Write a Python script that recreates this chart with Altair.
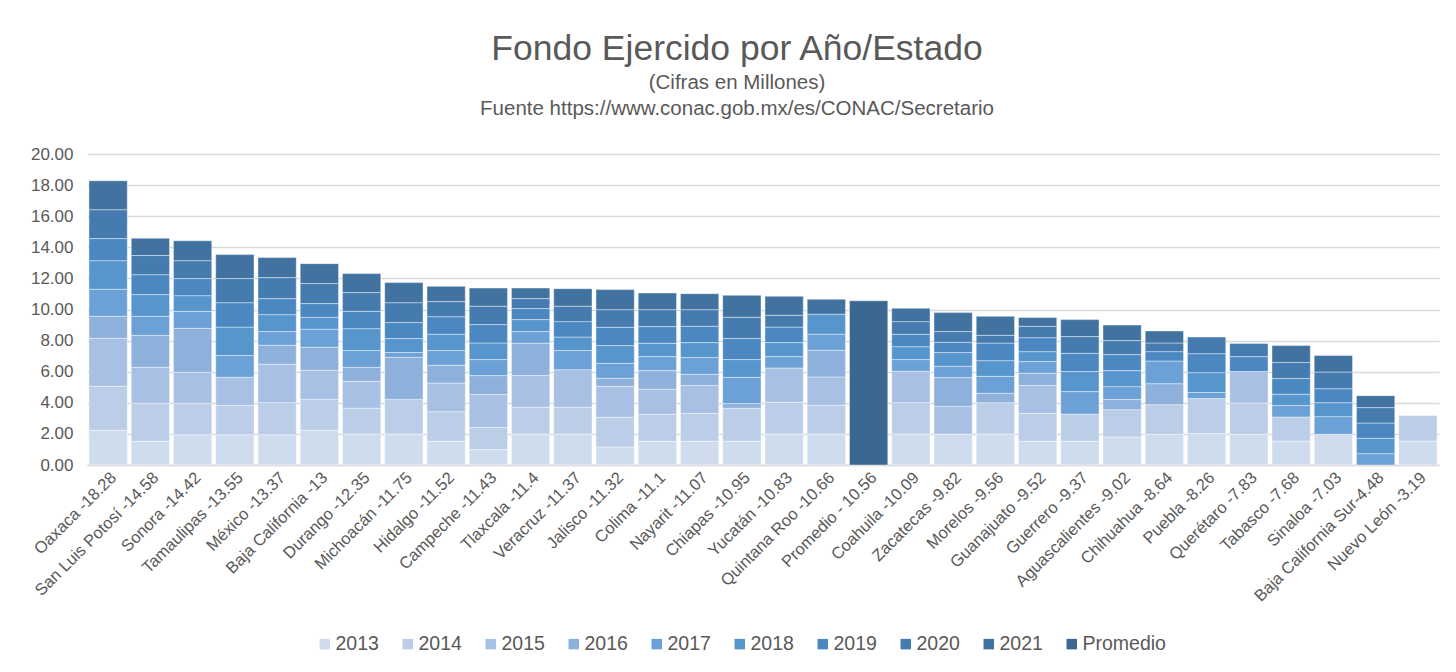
import altair as alt
import pandas as pd

states = ["Oaxaca -18.28", "San Luis Potosí -14.58", "Sonora -14.42", "Tamaulipas -13.55",
          "México -13.37", "Baja California -13", "Durango -12.35", "Michoacán -11.75",
          "Hidalgo -11.52", "Campeche -11.43", "Tlaxcala -11.4", "Veracruz -11.37",
          "Jalisco -11.32", "Colima -11.1", "Nayarit -11.07", "Chiapas -10.95",
          "Yucatán -10.83", "Quintana Roo -10.66", "Promedio - 10.56", "Coahuila -10.09",
          "Zacatecas -9.82", "Morelos -9.56", "Guanajuato -9.52", "Guerrero -9.37",
          "Aguascalientes -9.02", "Chihuahua -8.64", "Puebla -8.26", "Querétaro -7.83",
          "Tabasco -7.68", "Sinaloa -7.03", "Baja California Sur-4.48", "Nuevo León -3.19"]

series = ["2013", "2014", "2015", "2016", "2017", "2018", "2019", "2020", "2021", "Promedio"]

v2013 = [2.23, 1.52, 1.95, 1.95, 1.95, 2.23, 1.99, 1.99, 1.52, 0.99, 1.99, 1.99, 1.16, 1.52, 1.52, 1.52,
         1.99, 1.99, 0, 1.99, 1.99, 1.99, 1.52, 1.52, 1.80, 1.97, 2.02, 1.97, 1.54, 1.97, 0, 1.54]
v2014 = [2.83, 2.45, 2.02, 1.87, 2.06, 1.99, 1.66, 2.23, 1.91, 1.42, 1.72, 1.72, 1.91, 1.74, 1.80, 2.13,
         2.04, 1.85, 0, 2.02, 0, 2.02, 1.80, 1.76, 1.76, 1.91, 2.25, 2.02, 1.55, 0, 0, 1.64]
v2015 = [3.09, 2.31, 1.99, 1.82, 2.47, 1.87, 1.73, 0, 1.84, 2.12, 2.04, 2.42, 1.99, 1.61, 1.79, 0,
         2.21, 1.82, 0, 2.02, 1.78, 0, 1.79, 0, 0, 0, 0, 2.02, 0, 0, 0, 0]
v2016 = [1.41, 2.06, 2.83, 0, 1.22, 1.48, 0.90, 2.71, 1.14, 1.22, 2.08, 0, 0.52, 1.20, 0.72, 0.30,
         0, 1.72, 0, 0, 1.85, 0.60, 0.79, 0, 0.65, 1.35, 0, 0, 0, 0, 0, 0]
v2017 = [1.74, 1.22, 1.09, 1.40, 0.88, 1.16, 1.08, 0.30, 0.95, 1.03, 0.75, 1.23, 0.96, 0.90, 1.08, 1.69,
         0.73, 1.03, 0, 0.75, 0.73, 1.09, 0.75, 1.44, 0.83, 1.46, 0.39, 0, 0.73, 1.14, 0.73, 0]
v2018 = [1.84, 1.40, 1.01, 1.83, 1.09, 0.77, 1.41, 0.90, 1.05, 1.07, 0.77, 0.87, 1.14, 0.86, 0.96, 1.14,
         0.90, 1.29, 0, 0.83, 0.88, 1.01, 0.64, 1.29, 1.03, 0, 1.28, 0, 0.73, 0.90, 0.99, 0]
v2019 = [1.42, 1.28, 1.10, 1.57, 1.03, 0.88, 1.11, 1.03, 1.13, 1.18, 0.71, 0.99, 1.18, 1.07, 1.05, 1.35,
         1.00, 0, 0, 0.80, 0.66, 1.13, 0.90, 1.17, 1.03, 0.60, 1.22, 0.96, 1.01, 0.90, 0.98, 0]
v2020 = [1.86, 1.23, 1.15, 1.55, 1.35, 1.29, 1.21, 1.28, 0.97, 1.18, 0.64, 0.99, 1.13, 1.09, 1.07, 1.37,
         0.76, 0, 0, 0.81, 0.69, 0.50, 0.73, 1.08, 0.90, 0.56, 1.07, 0.84, 1.03, 1.07, 0.99, 0]
v2021 = [1.86, 1.11, 1.28, 1.54, 1.29, 1.28, 1.22, 1.29, 0.98, 1.17, 0.68, 1.13, 1.29, 1.07, 1.03, 1.41,
         1.22, 0.96, 0, 0.86, 1.22, 1.22, 0.56, 1.09, 1.00, 0.77, 0, 0, 1.09, 1.06, 0.77, 0]
vprom = [0] * 18 + [10.56] + [0] * 13

colors = ["#cfdcee", "#bccee7", "#a7c0e3", "#8eb1dc", "#6ba1d7", "#5795cd",
          "#4b88c1", "#467bb0", "#4273a0", "#3b6790"]

all_series = [v2013, v2014, v2015, v2016, v2017, v2018, v2019, v2020, v2021, vprom]
rows = []
for k, (name, vals) in enumerate(zip(series, all_series)):
    for st, v in zip(states, vals):
        if v > 0:
            rows.append({"estado": st, "serie": name, "valor": v, "ord": k})
df = pd.DataFrame(rows)

FONT = "Liberation Sans"
GREY = "#595959"

chart = alt.Chart(df).mark_bar(stroke="white", strokeWidth=0.7, strokeOpacity=0.6).encode(
    x=alt.X("estado:N", sort=states,
            scale=alt.Scale(paddingInner=0.093, paddingOuter=0.0465),
            axis=alt.Axis(title=None, labelAngle=-45, labelAlign="right", labelBaseline="top",
                          labelPadding=4, labelFontSize=16.5, labelFont=FONT, labelColor=GREY,
                          ticks=False, domainColor="#d9d9d9", domainWidth=1.5, grid=False,
                          labelOverlap=False, labelLimit=400)),
    y=alt.Y("valor:Q", stack="zero",
            scale=alt.Scale(domain=[0, 20], nice=False),
            axis=alt.Axis(title=None, values=list(range(0, 21, 2)), format=".2f",
                          labelFontSize=17, labelFont=FONT, labelColor=GREY, labelPadding=14,
                          ticks=False, domain=False, gridColor="#d9d9d9", gridWidth=1.3)),
    color=alt.Color("serie:N", scale=alt.Scale(domain=series, range=colors),
                    legend=alt.Legend(title=None, orient="none", legendX=228, legendY=480,
                                      direction="horizontal", columns=10, symbolType="square",
                                      symbolSize=110, symbolStrokeWidth=0, labelFontSize=19.5,
                                      labelFont=FONT, labelColor=GREY, columnPadding=19,
                                      labelOffset=1)),
    order=alt.Order("ord:Q", sort="ascending"),
).properties(
    width=1352, height=311,
    autosize=alt.AutoSizeParams(type="none"),
    padding={"left": 79, "top": 146, "right": 9, "bottom": 190},
    background="white",
    title=alt.TitleParams(
        "Fondo Ejercido por Año/Estado",
        subtitle=["(Cifras en Millones)", "Fuente https://www.conac.gob.mx/es/CONAC/Secretario"],
        fontSize=35.5, font=FONT, fontWeight="normal", color=GREY,
        subtitleFontSize=20.5, subtitleFont=FONT, subtitleColor=GREY,
        subtitleLineHeight=26, subtitlePadding=5,
        anchor="middle", dx=-26, offset=26),
).configure_view(strokeWidth=0, stroke="transparent")

chart.save("out.html", embed_options={"renderer": "svg", "actions": False})
